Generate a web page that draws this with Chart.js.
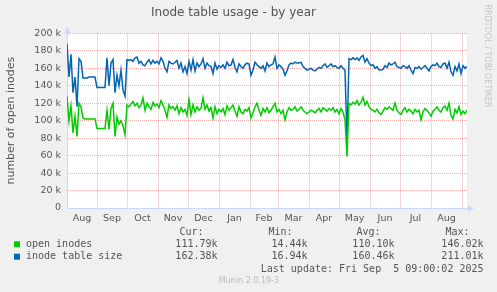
<!DOCTYPE html>
<html>
<head>
<meta charset="utf-8">
<script src="https://cdn.jsdelivr.net/npm/chart.js@4/dist/chart.umd.min.js"></script>
<style>
html, body { margin: 0; padding: 0; background: #f0f0f0; }
</style>
</head>
<body>
<canvas id="grafInodes" width="497" height="292"></canvas>
<script>
// eje X: dias desde el 2 ago 2024 (borde izquierdo del grafico)
const monthStarts = [30, 60, 91, 121, 152, 183, 211, 242, 272, 303, 333, 364, 395];
const monthMids = [15, 45, 75.5, 106, 136.5, 167.5, 197, 226.5, 257, 287.5, 318, 348.5, 379.5];
const monthNames = ['Aug', 'Sep', 'Oct', 'Nov', 'Dec', 'Jan', 'Feb', 'Mar', 'Apr', 'May', 'Jun', 'Jul', 'Aug'];
const stepDays = 2;

// valores en miles (k), uno cada 2 dias
const openInodes = [
    128, 100, 117, 86, 105, 82, 120, 116, 103, 102,
    102, 102, 102, 102, 102, 91, 91, 91, 91, 91,
    112, 90, 114, 120, 82, 104, 96, 100, 94, 84,
    118, 116, 119, 122, 117, 120, 115, 118, 126, 112,
    120, 116, 113, 121, 117, 119, 115, 123, 118, 112,
    104, 118, 114, 116, 112, 117, 108, 115, 110, 113,
    106, 124, 107, 118, 110, 116, 112, 114, 126, 113,
    118, 111, 115, 103, 116, 108, 113, 110, 114, 107,
    117, 112, 115, 118, 111, 105, 116, 110, 108, 113,
    111, 115, 103, 109, 116, 120, 112, 106, 114, 110,
    115, 109, 112, 116, 120, 110, 113, 108, 112, 101,
    110, 115, 112, 113, 116, 111, 113, 116, 112, 110,
    108, 110, 112, 111, 109, 112, 114, 110, 115, 113,
    111, 114, 112, 115, 110, 113, 108, 114, 110, 101,
    59, 120, 118, 121, 119, 123, 118, 121, 127, 118,
    122, 116, 113, 112, 110, 113, 109, 107, 111, 115,
    113, 116, 114, 112, 120, 112, 109, 107, 112, 115,
    110, 113, 111, 108, 113, 110, 112, 101, 110, 114,
    112, 109, 105, 111, 113, 116, 112, 110, 115, 117,
    112, 120, 106, 102, 113, 109, 116, 107, 111, 108,
    112
];
const tableSize = [
    188, 150, 176, 132, 150, 116, 171, 168, 149, 149,
    149, 150, 150, 150, 150, 138, 138, 138, 138, 138,
    172, 140, 166, 170, 132, 152, 140, 158, 135, 128,
    170, 169, 170, 168, 172, 173, 166, 168, 164, 163,
    167, 170, 165, 169, 166, 168, 165, 172, 168, 160,
    156, 168, 166, 165, 167, 169, 160, 166, 156, 162,
    154, 168, 158, 170, 157, 166, 162, 165, 171, 160,
    166, 163, 162, 154, 166, 159, 163, 161, 164, 160,
    167, 163, 164, 170, 161, 156, 165, 162, 160, 164,
    166, 165, 152, 158, 167, 164, 162, 160, 163, 157,
    166, 162, 164, 165, 173, 160, 164, 162, 159, 152,
    157, 164, 166, 165, 167, 166, 166, 167, 162, 160,
    158, 159, 160, 158, 157, 159, 161, 160, 163, 165,
    161, 163, 165, 162, 163, 161, 160, 163, 160, 158,
    78, 171, 170, 172, 170, 172, 169, 173, 175, 167,
    171, 166, 163, 164, 160, 162, 158, 158, 159, 163,
    161, 166, 164, 165, 167, 162, 161, 160, 163, 162,
    160, 163, 158, 154, 161, 160, 162, 159, 161, 163,
    160, 157, 162, 164, 163, 166, 162, 161, 165, 166,
    160, 167, 156, 152, 162, 157, 165, 154, 163, 160,
    162
];

// leyenda
const seriesNames = ['open inodes', 'inode table size'];
const seriesColors = ['#00cc00', '#0066b3'];
const statHeads = ['Cur:', 'Min:', 'Avg:', 'Max:'];
const statsOpen = ['111.79k', '14.44k', '110.10k', '146.02k'];
const statsTable = ['162.38k', '16.94k', '160.46k', '211.01k'];
const lastUpdate = 'Last update: Fri Sep  5 09:00:02 2025';

const toPoints = (vals) => vals.map((v, i) => ({ x: i * stepDays, y: v }));

const RED = 'rgba(225, 60, 60, 0.42)';
const GREY = 'rgba(0, 0, 0, 0.18)';
const AXIS = '#cfd6f8';
const FONT_COLOR = '#555555';

Chart.defaults.font.family = '"DejaVu Sans"';
Chart.defaults.color = FONT_COLOR;

const muninPlugin = {
    id: 'munin',
    beforeDraw(chart) {
        const ctx = chart.ctx;
        const a = chart.chartArea;
        ctx.save();
        ctx.fillStyle = '#f0f0f0';
        ctx.fillRect(0, 0, chart.width, chart.height);
        ctx.fillStyle = '#ffffff';
        ctx.fillRect(a.left, a.top, a.right - a.left, a.bottom - a.top);
        ctx.restore();
    },
    afterDraw(chart) {
        const ctx = chart.ctx;
        const a = chart.chartArea;
        ctx.save();

        // flechas de los ejes
        ctx.fillStyle = AXIS;
        ctx.beginPath();
        ctx.moveTo(a.left - 2.5, a.top);
        ctx.lineTo(a.left + 3.5, a.top);
        ctx.lineTo(a.left + 0.5, a.top - 7);
        ctx.closePath();
        ctx.fill();
        ctx.fillRect(a.right, a.bottom - 0.5, 2, 1);
        ctx.beginPath();
        ctx.moveTo(a.right + 1, a.bottom - 2.5);
        ctx.lineTo(a.right + 1, a.bottom + 3.5);
        ctx.lineTo(a.right + 7, a.bottom + 0.5);
        ctx.closePath();
        ctx.fill();

        // marca vertical
        ctx.save();
        ctx.translate(487, 56);
        ctx.rotate(Math.PI / 2);
        ctx.font = '8px "DejaVu Sans"';
        ctx.fillStyle = '#c4c4c4';
        ctx.textAlign = 'center';
        ctx.textBaseline = 'middle';
        ctx.fillText('RRDTOOL / TOBI OETIKER', 0, 0);
        ctx.restore();

        // leyenda
        ctx.font = '10px "DejaVu Sans Mono"';
        ctx.fillStyle = FONT_COLOR;
        ctx.textBaseline = 'middle';
        const headRight = [203, 292, 380, 469];
        const valRight = [217, 307, 394, 483];
        ctx.textAlign = 'right';
        statHeads.forEach((h, i) => ctx.fillText(h, headRight[i] + 0.5, 232.7));
        const rows = [statsOpen, statsTable];
        const rowY = [244.3, 256.7];
        rows.forEach((vals, r) => {
            vals.forEach((v, i) => ctx.fillText(v, valRight[i] + 0.5, rowY[r]));
        });
        ctx.textAlign = 'left';
        seriesNames.forEach((n, r) => {
            ctx.fillStyle = seriesColors[r];
            ctx.fillRect(14, rowY[r] - 3, 6, 6);
            ctx.fillStyle = FONT_COLOR;
            ctx.fillText(n, 26, rowY[r]);
        });
        ctx.textAlign = 'right';
        ctx.fillText(lastUpdate, 483.5, 269);

        ctx.font = '8px "DejaVu Sans"';
        ctx.fillStyle = '#bbbbbb';
        ctx.textAlign = 'center';
        ctx.fillText('Munin 2.0.19-3', 249, 281);
        ctx.restore();
    }
};

const ctxInodes = document.getElementById('grafInodes').getContext('2d');
const grafInodes = new Chart(ctxInodes, {
    type: 'line',
    data: {
        datasets: [{
            label: seriesNames[0],
            data: toPoints(openInodes),
            borderColor: seriesColors[0],
            borderWidth: 1.5,
            pointRadius: 0,
            tension: 0
        }, {
            label: seriesNames[1],
            data: toPoints(tableSize),
            borderColor: seriesColors[1],
            borderWidth: 1.5,
            pointRadius: 0,
            tension: 0
        }]
    },
    options: {
        responsive: false,
        animation: false,
        devicePixelRatio: 1,
        layout: { padding: { left: 0, right: 30, top: 0, bottom: 0 } },
        plugins: {
            legend: { display: false },
            tooltip: { enabled: false },
            title: {
                display: true,
                text: 'Inode table usage - by year',
                color: FONT_COLOR,
                font: { size: 12, weight: 'normal' },
                padding: { top: 6, bottom: 13 }
            }
        },
        scales: {
            x: {
                type: 'linear',
                min: 0,
                max: 400,
                weight: 0,
                afterBuildTicks: (s) => { s.ticks = monthStarts.map(v => ({ value: v })); },
                afterFit: (s) => { s.height = 0; },
                ticks: { display: false },
                grid: { color: RED, drawTicks: false },
                border: { color: AXIS, dash: [1, 1] }
            },
            xl: {
                type: 'linear',
                position: 'bottom',
                min: 0,
                max: 400,
                weight: 1,
                afterBuildTicks: (s) => { s.ticks = monthMids.map(v => ({ value: v })); },
                afterFit: (s) => { s.height = 84; },
                ticks: {
                    autoSkip: false,
                    maxRotation: 0,
                    padding: 5,
                    font: { size: 9.5 },
                    callback: (v, i) => monthNames[i]
                },
                grid: { display: false, drawTicks: false },
                border: { display: false }
            },
            y: {
                min: 0,
                max: 200,
                afterFit: (s) => { s.width = 67; },
                ticks: {
                    stepSize: 10,
                    padding: 6,
                    font: { size: 9.5 },
                    callback: (v) => v % 20 === 0 ? (v === 0 ? '0' : v + ' k') : ''
                },
                grid: {
                    drawTicks: false,
                    color: (c) => c.tick && c.tick.value % 20 === 0 ? RED : GREY
                },
                border: { color: AXIS, dash: [1, 1] },
                title: {
                    display: true,
                    text: 'number of open inodes',
                    color: FONT_COLOR,
                    font: { size: 11 },
                    padding: { top: 5, bottom: 0 }
                }
            }
        }
    },
    plugins: [muninPlugin]
});
</script>
</body>
</html>
